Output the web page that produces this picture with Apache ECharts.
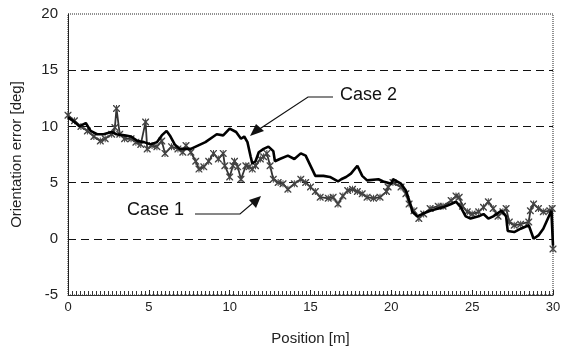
<!DOCTYPE html>
<html>
<head>
<meta charset="utf-8">
<script src="https://cdn.jsdelivr.net/npm/echarts@6/dist/echarts.min.js"></script>
<style>
  html, body { margin: 0; padding: 0; background: #fff; }
  #chart { width: 567px; height: 353px; }
</style>
</head>
<body>
<div id="chart"></div>
<script>
// values
let case2X = [0, 0.4, 0.7, 1.1, 1.4, 1.8, 2.2, 2.7, 3.0, 3.5, 3.9, 4.3, 4.7, 5.1, 5.5, 5.8, 6.1, 6.3, 6.6, 6.9,
  7.6, 8.2, 8.5, 9.0, 9.2, 9.6, 10.0, 10.4, 10.7, 10.9, 11.1, 11.3, 11.4, 11.6, 11.8, 12.1, 12.4, 12.7, 12.8, 13.1,
  13.6, 14.0, 14.4, 14.7, 15.1, 15.3, 15.8, 16.2, 16.7, 16.9, 17.2, 17.5, 17.9, 18.2, 18.5, 19.2, 19.5, 20.0, 20.1, 20.6,
  20.9, 21.2, 21.3, 21.6, 21.9, 22.4, 22.9, 23.2, 23.7, 24.0, 24.3, 24.6, 24.9, 25.4, 25.7, 26.0, 26.3, 26.8, 27.1, 27.2,
  27.6, 28.0, 28.5, 28.8, 29.1, 29.4, 29.9, 30.0]
let case2Y = [10.8, 10.4, 10.0, 10.3, 9.6, 9.3, 9.3, 9.5, 9.3, 9.2, 9.1, 8.7, 8.6, 8.4, 8.6, 9.2, 9.6, 9.2, 8.4, 8.0,
  8.0, 8.4, 8.6, 9.1, 9.3, 9.2, 9.8, 9.5, 8.9, 9.1, 8.6, 7.3, 6.7, 6.9, 7.7, 8.0, 8.2, 7.8, 6.9, 7.1,
  7.4, 7.1, 7.6, 7.4, 6.2, 5.6, 5.6, 5.5, 5.1, 5.3, 5.5, 5.8, 6.5, 5.6, 5.2, 5.3, 5.1, 4.9, 5.3, 4.9,
  4.3, 3.0, 2.4, 2.0, 2.2, 2.5, 2.7, 2.8, 3.1, 3.3, 2.8, 2.0, 1.8, 2.0, 2.2, 1.8, 2.0, 2.5, 2.0, 0.7,
  0.6, 0.9, 1.2, 0.0, 0.3, 0.9, 2.5, -0.6]

let case1X = [0, 0.4, 0.8, 1.2, 1.6, 2.0, 2.3, 2.7, 2.9, 3.0, 3.2, 3.5, 3.9, 4.2, 4.5, 4.8, 4.9, 5.2, 5.5, 5.8,
  6.0, 6.4, 6.8, 7.1, 7.3, 7.6, 7.9, 8.1, 8.4, 8.7, 9.0, 9.3, 9.6, 9.7, 10.0, 10.2, 10.3, 10.5, 10.7, 11.0,
  11.2, 11.4, 11.6, 11.9, 12.1, 12.3, 12.5, 12.7, 13.0, 13.3, 13.6, 14.0, 14.4, 14.7, 15.0, 15.3, 15.6, 16.1, 16.4, 16.7,
  17.0, 17.3, 17.6, 17.9, 18.2, 18.5, 18.9, 19.3, 19.7, 19.8, 20.1, 20.6, 20.9, 21.1, 21.4, 21.7, 22.0, 22.4, 22.9, 23.2,
  23.7, 24.0, 24.2, 24.4, 24.7, 25.0, 25.4, 25.7, 26.0, 26.3, 26.6, 26.9, 27.1, 27.3, 27.6, 28.0, 28.5, 28.6, 28.8, 29.1,
  29.4, 29.8, 29.95, 30.0]
let case1Y = [11.0, 10.5, 10.0, 9.6, 9.1, 8.7, 8.9, 9.3, 9.9, 11.6, 9.3, 8.9, 8.9, 8.6, 8.4, 10.4, 8.0, 8.3, 8.2, 8.7,
  7.6, 8.2, 8.0, 7.7, 8.3, 7.7, 6.9, 6.2, 6.4, 6.9, 7.6, 7.1, 7.6, 6.5, 5.5, 6.5, 6.9, 6.4, 5.3, 6.5,
  6.4, 6.2, 6.5, 7.1, 7.3, 7.6, 6.5, 5.3, 5.0, 4.9, 4.4, 4.9, 5.3, 5.0, 4.6, 4.2, 3.7, 3.6, 3.7, 3.1,
  3.8, 4.3, 4.4, 4.2, 4.0, 3.7, 3.6, 3.7, 4.2, 4.6, 5.0, 4.6, 4.0, 3.1, 2.5, 1.8, 2.2, 2.7, 2.9, 2.9,
  3.4, 3.8, 3.7, 2.9, 2.4, 2.2, 2.4, 2.8, 3.3, 2.7, 2.0, 2.4, 2.7, 1.5, 1.2, 1.3, 1.5, 2.5, 3.1, 2.7,
  2.4, 2.5, 2.7, -0.9]

let yTicks = [-5, 0, 5, 10, 15, 20]
let xTicks = [0, 5, 10, 15, 20, 25, 30]

const asterisk = 'path://M0,0L1.4,0L10,8.6L10,10L8.6,10L0,1.4Z M8.6,0L10,0L10,1.4L1.4,10L0,10L0,8.6Z M4.3,0L5.7,0L5.7,10L4.3,10Z'

let myChart = echarts.init(document.getElementById('chart'))

function pairs(xs, ys) {
  return xs.map((x, i) => [x, ys[i]])
}

const font = '"Liberation Sans", Arial, sans-serif'
const yMin = yTicks[0], yMax = yTicks[yTicks.length - 1]

myChart.setOption({
  animation: false,
  backgroundColor: '#fff',
  grid: {
    left: 68, right: 14, top: 14, bottom: 58,
    show: true,
    borderColor: '#222',
    borderWidth: 1,
    borderType: 'dotted'
  },
  xAxis: {
    type: 'value',
    min: xTicks[0],
    max: xTicks[xTicks.length - 1],
    interval: 5,
    name: 'Position [m]',
    nameLocation: 'middle',
    nameGap: 36,
    nameTextStyle: { fontFamily: font, fontSize: 15, color: '#222' },
    // sits on the zero of the hidden helper y axis, i.e. the bottom edge
    axisLine: { show: true, onZero: true, onZeroAxisIndex: 1, lineStyle: { color: '#333', width: 1 } },
    axisTick: { show: true, inside: true, length: 5, lineStyle: { color: '#222', width: 1 } },
    minorTick: { show: true, splitNumber: 20, length: 4, lineStyle: { color: '#333', width: 1 } },
    axisLabel: { fontFamily: '"Liberation Sans Narrow", "Liberation Sans", sans-serif', fontSize: 13, color: '#222', margin: 6 },
    splitLine: { show: false }
  },
  yAxis: [{
    type: 'value',
    min: yMin,
    max: yMax,
    interval: 5,
    name: 'Orientation error [deg]',
    nameLocation: 'middle',
    nameGap: 44,
    nameTextStyle: { fontFamily: font, fontSize: 15, color: '#222' },
    axisLine: { show: true, onZero: false, lineStyle: { color: '#222', width: 1 } },
    axisTick: { show: false },
    axisLabel: { fontFamily: font, fontSize: 15, color: '#222', margin: 10 },
    splitLine: {
      show: true,
      lineStyle: { color: '#111', type: [8, 5], width: 1.2 },
      showMinLine: false,
      showMaxLine: false
    }
  }, {
    // helper axis whose zero is at the bottom of the plot
    type: 'value',
    min: 0,
    max: yMax - yMin,
    show: false
  }],
  series: [{
    name: 'Case 1',
    type: 'line',
    data: pairs(case1X, case1Y),
    symbol: asterisk,
    symbolSize: 7,
    showAllSymbol: true,
    lineStyle: { color: '#333', width: 1.8 },
    itemStyle: { color: '#444' },
    z: 2
  }, {
    name: 'Case 2',
    type: 'line',
    data: pairs(case2X, case2Y),
    symbol: 'none',
    lineStyle: { color: '#000', width: 2.6 },
    z: 3
  }],
  graphic: [
    { type: 'text', left: 340, top: 86, style: { text: 'Case 2', font: '18px ' + font, fill: '#111' } },
    { type: 'polyline', shape: { points: [[333, 97], [308, 97], [258, 130]] }, style: { stroke: '#111', lineWidth: 1.2, fill: null } },
    { type: 'polygon', shape: { points: [[250, 136], [256, 124], [264, 131]] }, style: { fill: '#111' } },
    { type: 'text', left: 127, top: 201, style: { text: 'Case 1', font: '18px ' + font, fill: '#111' } },
    { type: 'polyline', shape: { points: [[195, 214], [240, 214], [254, 202]] }, style: { stroke: '#111', lineWidth: 1.2, fill: null } },
    { type: 'polygon', shape: { points: [[261, 196], [249, 200], [256, 208]] }, style: { fill: '#111' } }
  ]
})
</script>
</body>
</html>
